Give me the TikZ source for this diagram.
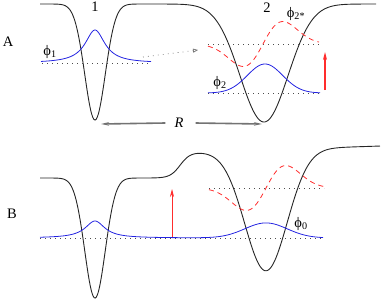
\documentclass[tikz,border=0pt]{standalone}
\usepackage{fontspec}
\setmainfont{Liberation Serif}
\usetikzlibrary{arrows.meta}

\definecolor{wfblue}{RGB}{35,35,225}
\definecolor{exred}{RGB}{255,45,45}
\definecolor{rgray}{RGB}{115,115,115}

\begin{document}
\begin{tikzpicture}[
    x=1pt, y=-1pt,
    >=Stealth,
    every node/.style={font=\fontsize{14.5}{16}\selectfont, inner sep=0pt},
    declare function={
        gs(\xa,\xc,\xw)=exp(-min(((\xa-\xc)/\xw)*((\xa-\xc)/\xw),9));
        lz(\xa,\xc,\xw)=1/(1+((\xa-\xc)/\xw)*((\xa-\xc)/\xw));
        up(\xa,\xc,\xw)=1/(1+exp(min(9,(\xc-\xa)/\xw)));
    },
    pot/.style={line width=0.9pt, black!85},
    wave/.style={line width=0.8pt, wfblue},
    exwave/.style={line width=0.8pt, exred, dash pattern=on 5pt off 4pt},
    level/.style={line width=0.7pt, black!70, dash pattern=on 0.8pt off 4.2pt},
    hop/.style={level, rgray, -{Triangle[open, length=5pt, width=4pt]}},
    kick/.style={-{Stealth[length=8pt, width=4pt]}, exred},
    sep/.style={-{Stealth[length=8pt, width=3.5pt]}, line width=1.6pt, rgray},
]
\useasboundingbox (0,0) rectangle (382,300);

% ---- A: two separated wells ----
\node (tagA) at (8,42) {A};
\draw[pot] plot[domain=40:376, samples=300] (\x, {4 + 116*gs(\x,95,14.5) + 118*gs(\x,264,34)});
\node (one) at (95,6.5) {1};
\node (two) at (267,8) {2};

% levels
\draw[level] (42,63) -- (150,63);
\draw[level] (208,44) -- (319,44);
\draw[level] (208,93) -- (319,93);

% orbitals
\draw[wave] plot[domain=41:151, samples=120] (\x, {63 - 33*lz(\x,95,12)});
\draw[wave] plot[domain=208:320, samples=120] (\x, {93 - 29*gs(\x,265,25)});
\draw[exwave] plot[domain=208:319, samples=120] (\x, {44 - 1.87*(\x-263)*gs(\x,263,28)});
\node (phione) at (50,52) {ϕ\textsubscript{1}};
\node (phitwo) at (220,83) {ϕ\textsubscript{2}};
\node (phistar) at (296,14) {ϕ\textsubscript{2*}};

% transfer and excitation
\coordinate (hopfrom) at (143,57);
\coordinate (hopto) at (198,50);
\draw[hop] (hopfrom) -- (hopto);
\coordinate (kickAfoot) at (325,90);
\coordinate (kickAtip) at (325,52);
\draw[kick, line width=1.3pt] (kickAfoot) -- (kickAtip);

% separation R
\node (rlab) at (179,123) {\textit{R}};
\coordinate (wellone) at (101,124);
\coordinate (welltwo) at (262,124);
\draw[sep] ([xshift=-9pt]rlab.west) -- (wellone);
\draw[sep] ([xshift=12pt]rlab.east) -- (welltwo);

% ---- B: wells under field ----
\node (tagB) at (12,214) {B};
\draw[pot] plot[domain=40:380, samples=340] (\x, {178 - 26*up(\x,180,5) - 6*(\x-197)/183*up(\x,180,5) + 120*gs(\x,95,14.5) + 121*gs(\x,266,30)});

\draw[level] (40,238) -- (322,238);
\draw[level] (209,188) -- (324,188);

\draw[wave] plot[domain=40:323, samples=300] (\x, {238 - 17*lz(\x,95,12) - 15*gs(\x,266,30)});
\draw[exwave] plot[domain=209:324, samples=120] (\x, {188 - 1.87*(\x-266)*gs(\x,266,28)});
\node (phizero) at (301,224) {ϕ\textsubscript{0}};

\coordinate (kickBfoot) at (172,237);
\coordinate (kickBtip) at (172,189);
\draw[kick, line width=0.7pt] (kickBfoot) -- (kickBtip);

\end{tikzpicture}
\end{document}
